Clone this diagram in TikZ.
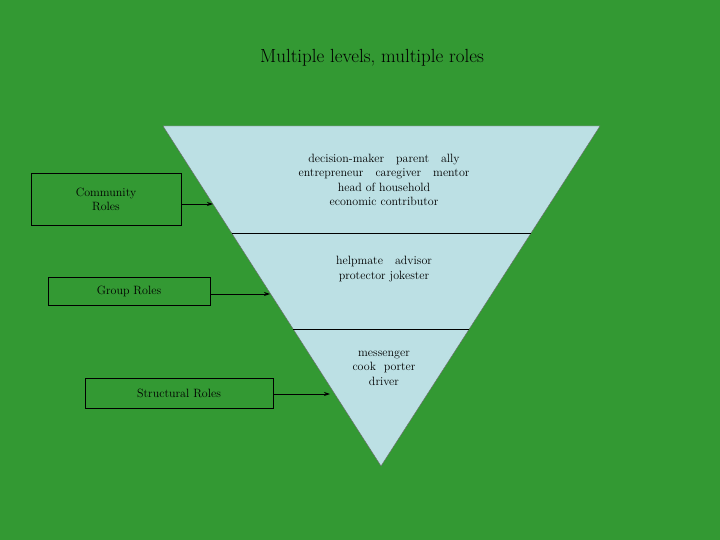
\documentclass[tikz,border=0pt]{standalone}
\usetikzlibrary{arrows.meta}
\begin{document}
\begin{tikzpicture}[x=1pt,y=-1pt,
  lbl/.style={draw=black,fill=none,font=\fontsize{12}{14}\selectfont,align=center,inner sep=0},
  txt/.style={font=\fontsize{12}{14.5}\selectfont,align=center},
  arr/.style={-{Stealth[length=6pt,width=4pt]},thick}]
\useasboundingbox (0,0) rectangle (720,540);
\fill[fill={rgb,255:red,51;green,153;blue,51}] (0,0) rectangle (720,540);
\node[font=\fontsize{19}{22}\selectfont] (title) at (372,58) {Multiple levels, multiple roles};
\filldraw[fill={rgb,255:red,188;green,224;blue,228},draw=black!60] (163,126) -- (600,126) -- (381,466) -- cycle;
\draw[black] (231.6,233) -- (531,233);
\draw[black] (293,329) -- (469,329);
\node[txt] (t1) at (384,180) {decision-maker\quad parent\quad ally\\entrepreneur\quad caregiver\quad mentor\\head of household\\economic contributor};
\node[txt] (t2) at (384,269) {helpmate\quad advisor\\protector jokester};
\node[txt] (t3) at (384,368) {messenger\\cook\ \ porter\\driver};
\node[lbl,minimum width=150,minimum height=52] (c) at (106,199) {Community\\Roles};
\node[lbl,minimum width=162,minimum height=28] (g) at (129,291) {Group Roles};
\node[lbl,minimum width=188,minimum height=30] (s) at (179,393) {Structural Roles};
\coordinate (ca) at (213,204);
\coordinate (ga) at (270,294);
\coordinate (sa) at (330,394);
\draw[arr] (c.east |- ca) -- (ca);
\draw[arr] (g.east |- ga) -- (ga);
\draw[arr] (s.east |- sa) -- (sa);
\end{tikzpicture}
\end{document}
